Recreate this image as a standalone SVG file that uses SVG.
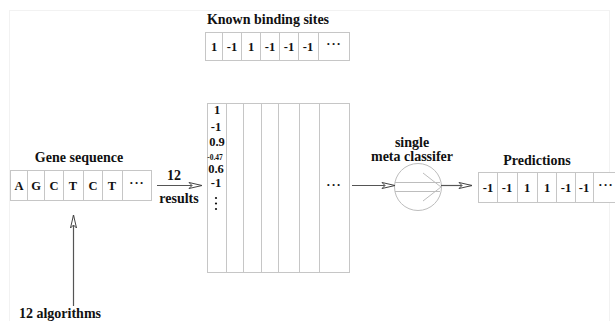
<svg xmlns="http://www.w3.org/2000/svg" width="615" height="321" viewBox="0 0 615 321">
<style>
text{font-family:"Liberation Serif","Times New Roman",serif;font-weight:bold;fill:#111}
.t{font-size:14px;text-anchor:middle}
.c{font-size:12.5px;text-anchor:middle}
.cell{fill:#fff;stroke:#c6c6c6;stroke-width:1}
.grid{stroke:#c6c6c6;stroke-width:1;fill:none}
.con{stroke:#555;stroke-width:1.2;fill:none;marker-end:url(#ah)}
</style>
<defs>
<marker id="ah" markerWidth="16" markerHeight="8" refX="14" refY="4" orient="auto" markerUnits="userSpaceOnUse">
<path d="M1,1 L14,4 L1,7 L4,4 Z" fill="#fff" stroke="#444" stroke-width="1"/>
</marker>
</defs>
<rect x="9.5" y="10.5" width="600" height="320" fill="none" stroke="#f2f2f2"/>

<g id="known-sites">
<text class="t" x="268" y="24">Known binding sites</text>
<rect class="cell" x="205.5" y="32.5" width="144" height="28"/>
<path class="grid" d="M222.5,32.5V60.5M241.5,32.5V60.5M260.5,32.5V60.5M279.5,32.5V60.5M298.5,32.5V60.5M318.5,32.5V60.5"/>
<text class="c" x="214" y="51">1</text>
<text class="c" x="232" y="51">-1</text>
<text class="c" x="251" y="51">1</text>
<text class="c" x="270" y="51">-1</text>
<text class="c" x="289" y="51">-1</text>
<text class="c" x="308" y="51">-1</text>
<text class="c" x="334" y="48" letter-spacing="1">···</text>
</g>

<g id="gene-sequence">
<text class="t" x="79" y="162">Gene sequence</text>
<rect class="cell" x="10.5" y="170.5" width="141" height="30"/>
<path class="grid" d="M27.5,170.5V200.5M44.5,170.5V200.5M63.5,170.5V200.5M83.5,170.5V200.5M102.5,170.5V200.5M122.5,170.5V200.5"/>
<text class="c" x="19" y="190">A</text>
<text class="c" x="36" y="190">G</text>
<text class="c" x="54" y="190">C</text>
<text class="c" x="73" y="190">T</text>
<text class="c" x="93" y="190">C</text>
<text class="c" x="112" y="190">T</text>
<text class="c" x="137" y="187" letter-spacing="1">···</text>
</g>

<g id="results-matrix">
<rect class="cell" x="207.5" y="103.5" width="142" height="169"/>
<path class="grid" d="M226.5,103.5V272.5M243.5,103.5V272.5M261.5,103.5V272.5M278.5,103.5V272.5M299.5,103.5V272.5M319.5,103.5V272.5"/>
<text class="c" x="217" y="114">1</text>
<text class="c" x="216" y="131">-1</text>
<text class="c" x="217" y="146">0.9</text>
<text x="215" y="160" style="font-size:7.5px;text-anchor:middle">-0.47</text>
<text class="c" x="216" y="173">0.6</text>
<text class="c" x="216" y="187">-1</text>
<circle cx="216" cy="198" r="1.1" fill="#111"/>
<circle cx="216" cy="203.5" r="1.1" fill="#111"/>
<circle cx="216" cy="209" r="1.1" fill="#111"/>
<text class="c" x="334" y="189" letter-spacing="1">···</text>
</g>

<g id="meta-classifier">
<text class="t" x="412" y="147">single</text>
<text class="t" x="412" y="161">meta classifer</text>
<circle cx="418" cy="187" r="23.5" fill="#fff" stroke="#bdbdbd"/>
<path d="M395,182.5H440M395,191.5H440M423,173L441,187L423,201" fill="none" stroke="#bdbdbd"/>
</g>

<g id="predictions">
<text class="t" x="537" y="165">Predictions</text>
<rect class="cell" x="478.5" y="172.5" width="145" height="30"/>
<path class="grid" d="M497.5,172.5V202.5M517.5,172.5V202.5M537.5,172.5V202.5M556.5,172.5V202.5M575.5,172.5V202.5M593.5,172.5V202.5"/>
<text class="c" x="488" y="192">-1</text>
<text class="c" x="507" y="192">-1</text>
<text class="c" x="527" y="192">1</text>
<text class="c" x="547" y="192">1</text>
<text class="c" x="566" y="192">-1</text>
<text class="c" x="584" y="192">-1</text>
<text class="c" x="606" y="189" letter-spacing="1">···</text>
</g>

<g id="algorithms">
<text class="t" x="60" y="318">12 algorithms</text>
</g>

<g id="connectors">
<path class="con" d="M157,185.5H202"/>
<text class="t" x="174" y="180">12</text>
<text class="t" x="179" y="203">results</text>
<path class="con" d="M352,185.5H395"/>
<path class="con" d="M441,185.5H472"/>
<path class="con" d="M73.5,306V215"/>
</g>
</svg>
